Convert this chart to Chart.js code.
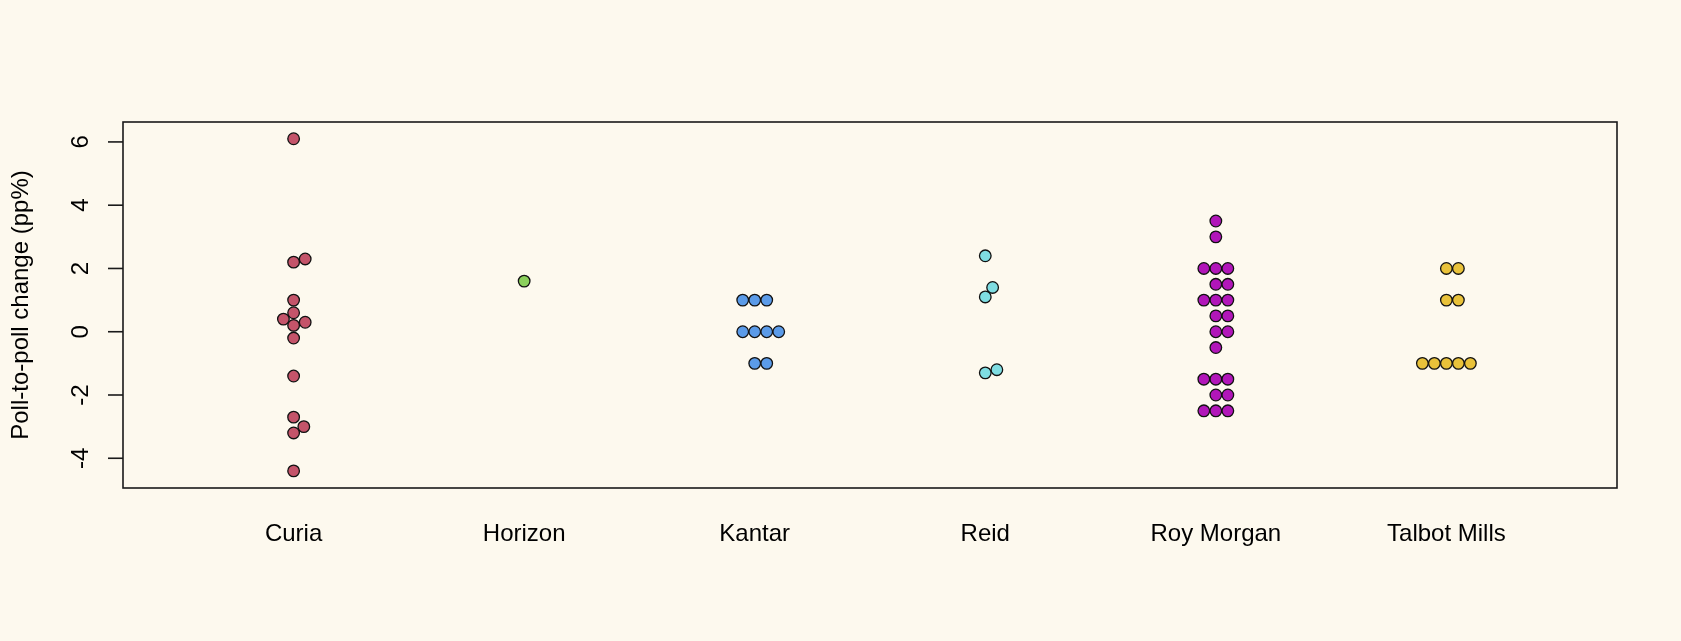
<!DOCTYPE html>
<html>
<head>
<meta charset="utf-8">
<script src="https://cdn.jsdelivr.net/npm/chart.js@4.4.1/dist/chart.umd.min.js"></script>
<style>
  html, body { margin: 0; padding: 0; background: #FDF9EE; }
  #wrap { width: 1681px; height: 641px; }
</style>
</head>
<body>
<div id="wrap"><canvas id="chart" width="1681" height="641"></canvas></div>
<script>
// Poll-to-poll change by pollster
const pollsters = ['Curia', 'Horizon', 'Kantar', 'Reid', 'Roy Morgan', 'Talbot Mills'];
const curia = [6.1, 2.2, 2.3, 1.0, 0.6, 0.4, 0.3, 0.2, -0.2, -1.4, -2.7, -3.0, -3.2, -4.4];
const horizon = [1.6];
const kantar = [1, 1, 1, 0, 0, 0, 0, -1, -1];
const reid = [2.4, 1.4, 1.1, -1.2, -1.3];
const royMorgan = [3.5, 3.0, 2, 2, 2, 1.5, 1.5, 1, 1, 1, 0.5, 0.5, 0, 0, -0.5, -1.5, -1.5, -1.5, -2, -2, -2.5, -2.5, -2.5];
const talbotMills = [2, 2, 1, 1, -1, -1, -1, -1, -1];
const yTicks = [-4, -2, 0, 2, 4, 6];
const yTitle = 'Poll-to-poll change (pp%)';

const series = [curia, horizon, kantar, reid, royMorgan, talbotMills];
const colours = ['#C4546A', '#8BD05C', '#5B9BE8', '#7FDDE2', '#B116B9', '#E9C23A'];

const FONT = '24px "Liberation Sans", Arial, Helvetica, sans-serif';
const DOT = 12; // spacing between swarm neighbours, px

// beeswarm "swarm" placement, ascending priority (like R's beeswarm)
function swarmOffsets(px, size) {
  const n = px.length;
  const v = px.map(p => -p / size);
  const order = v.map((_, i) => i).sort((a, b) => v[a] - v[b]);
  const placed = [];
  const out = new Array(n).fill(0);
  order.forEach(i => {
    const near = placed.filter(p => Math.abs(v[i] - p.v) < 1);
    let best = 0;
    if (near.length) {
      const pos = near.map(p => p.off + Math.sqrt(1 - (v[i] - p.v) ** 2));
      const neg = near.map(p => p.off - Math.sqrt(1 - (v[i] - p.v) ** 2));
      const cands = [0, ...pos, ...neg];
      let bestAbs = Infinity;
      cands.forEach(c => {
        const bad = near.some(p => (v[i] - p.v) ** 2 + (c - p.off) ** 2 < 0.999);
        if (!bad && Math.abs(c) < bestAbs) { bestAbs = Math.abs(c); best = c; }
      });
    }
    out[i] = best;
    placed.push({ v: v[i], off: best });
  });
  return out.map(o => o * size);
}

const frame = {
  id: 'frame',
  beforeDraw(chart) {
    const ctx = chart.ctx;
    ctx.save();
    ctx.fillStyle = '#FDF9EE';
    ctx.fillRect(0, 0, chart.width, chart.height);
    ctx.restore();
  },
  afterDraw(chart) {
    const ctx = chart.ctx;
    const a = chart.chartArea;
    const xs = chart.scales.x, ys = chart.scales.y;
    ctx.save();
    ctx.strokeStyle = '#1a1a1a';
    ctx.lineWidth = 1.6;
    ctx.strokeRect(a.left, a.top, a.right - a.left, a.bottom - a.top);

    ctx.fillStyle = '#000';
    ctx.font = FONT;
    // y ticks + rotated labels
    yTicks.forEach(t => {
      const py = ys.getPixelForValue(t);
      ctx.beginPath();
      ctx.moveTo(a.left - 15, py);
      ctx.lineTo(a.left, py);
      ctx.stroke();
      ctx.save();
      ctx.translate(a.left - 35, py);
      ctx.rotate(-Math.PI / 2);
      ctx.textAlign = 'center';
      ctx.textBaseline = 'alphabetic';
      ctx.fillText(String(t), 0, 0);
      ctx.restore();
    });
    // y title
    ctx.save();
    ctx.translate(28, (a.top + a.bottom) / 2);
    ctx.rotate(-Math.PI / 2);
    ctx.textAlign = 'center';
    ctx.textBaseline = 'alphabetic';
    ctx.fillText(yTitle, 0, 0);
    ctx.restore();
    // category labels
    ctx.textAlign = 'center';
    ctx.textBaseline = 'alphabetic';
    pollsters.forEach((name, i) => {
      ctx.fillText(name, xs.getPixelForValue(i + 1), a.bottom + 53);
    });
    ctx.restore();
  }
};

const chart = new Chart(document.getElementById('chart'), {
  type: 'scatter',
  data: {
    datasets: series.map((vals, i) => ({
      label: pollsters[i],
      data: vals.map(v => ({ x: i + 1, y: v })),
      backgroundColor: colours[i],
      borderColor: '#111111',
      borderWidth: 1.3,
      pointRadius: 5.8,
      pointHoverRadius: 5.8
    }))
  },
  options: {
    responsive: false,
    animation: false,
    layout: { padding: { left: 123, top: 122, right: 64, bottom: 153 } },
    plugins: { legend: { display: false }, tooltip: { enabled: false } },
    scales: {
      x: { type: 'linear', min: 0.26, max: 6.74, display: false },
      y: { type: 'linear', min: -4.94, max: 6.63, display: false }
    }
  },
  plugins: [frame]
});

// spread points sideways, beeswarm style, using the chart's own scales
const xs = chart.scales.x, ys = chart.scales.y;
const pxPerUnit = xs.getPixelForValue(2) - xs.getPixelForValue(1);
chart.data.datasets.forEach((ds, i) => {
  const offs = swarmOffsets(series[i].map(v => ys.getPixelForValue(v)), DOT);
  ds.data = series[i].map((v, j) => ({ x: i + 1 + offs[j] / pxPerUnit, y: v }));
});
chart.update('none');
</script>
</body>
</html>
